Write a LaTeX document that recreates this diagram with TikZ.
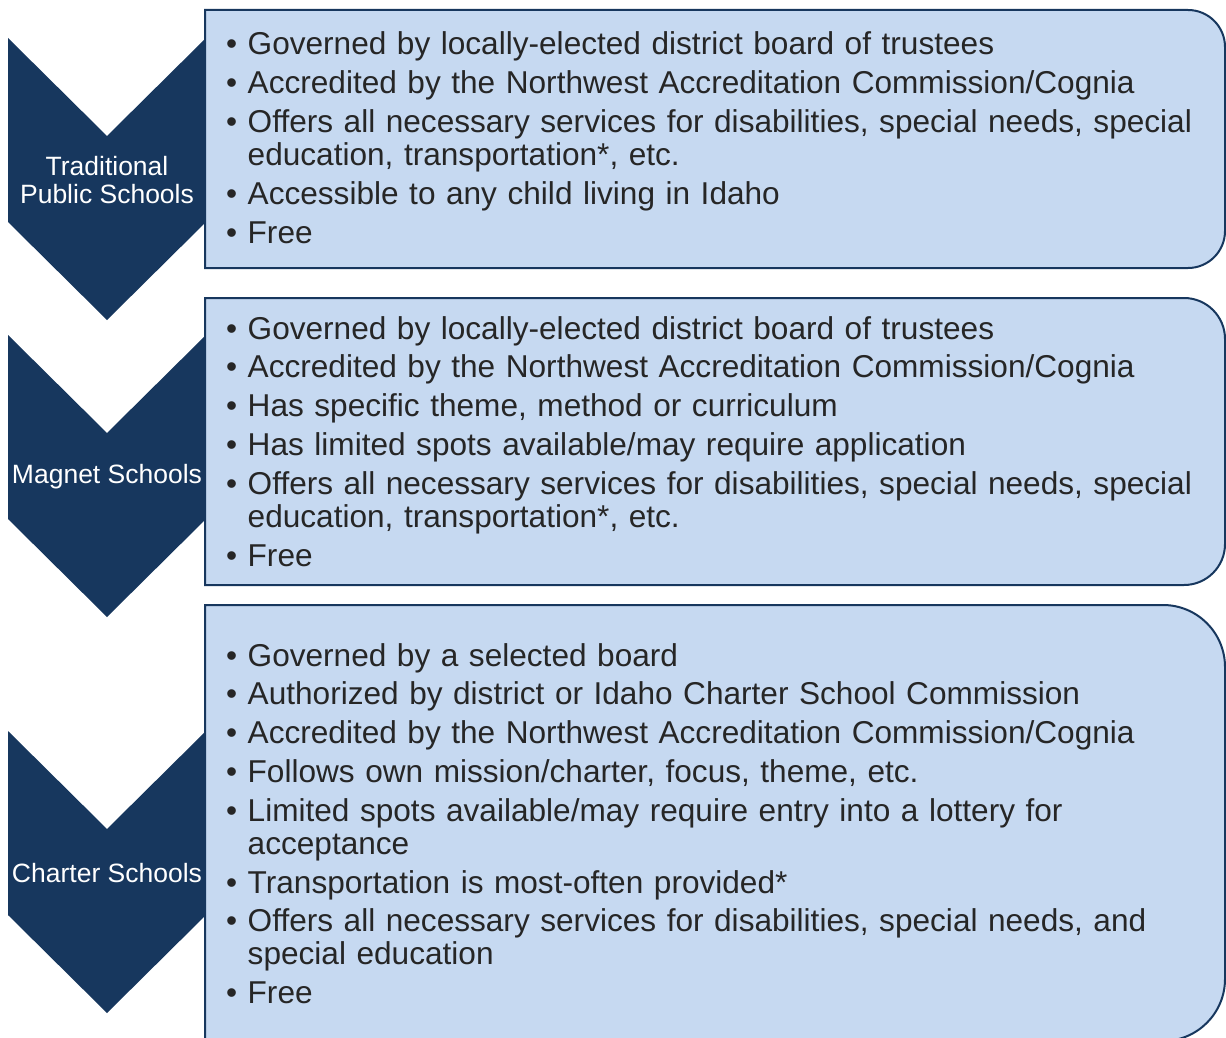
\documentclass[tikz,border=0pt]{standalone}
\usepackage{fontspec}
\setmainfont{Liberation Sans}
\usepackage{tikz}
\usetikzlibrary{calc}
\usetikzlibrary{positioning}
\definecolor{navy}{HTML}{17375E}
\definecolor{paleblue}{HTML}{C6D9F1}
\definecolor{textgray}{HTML}{262626}
\newcommand{\bul}[1]{\parskip=5.8pt\relax\hangindent=21.5pt\hangafter=1\noindent\makebox[21.5pt][l]{\textbullet}#1\par}

\begin{document}
\begin{tikzpicture}[x=1pt,y=-1pt]
  \tikzstyle{chevron}=[fill=navy]
  \tikzstyle{info box}=[fill=paleblue,draw=navy,line width=2pt]
  \tikzset{
chevron label/.style={text=white,align=center,inner sep=0,font=\fontsize{26.5}{27.5}\selectfont},
item list/.style={text=textgray,anchor=base west,inner sep=0,text width=1000pt,font=\fontsize{31.6}{33}\selectfont}
}
  \useasboundingbox (0,0) rectangle (1226,1038);
  % chevrons
  \foreach \t/\n/\l in {38/tps/{Traditional\\Public Schools},335/mag/{Magnet Schools},731/cha/{Charter Schools}}{
    \fill[chevron] (8,\t) -- (107,\t+98) -- (206,\t) -- (206,\t+184) -- (107,\t+282) -- (8,\t+184) -- cycle;
    \node[chevron label] (\n) at (107,\t+142) {\l};
  }
  % boxes
  \draw[info box] (205,268) -- (205,10) [rounded corners=37pt] -- (1225,10) -- (1225,268) [sharp corners] -- cycle;
  \draw[info box] (205,585) -- (205,298) [rounded corners=41pt] -- (1225,298) -- (1225,585) [sharp corners] -- cycle;
  \draw[info box] (205,1041) -- (205,605) [rounded corners=62pt] -- (1225,605) -- (1225,1041) [sharp corners] -- cycle;
  \node[item list] (tps list) at (226,55) {%
    \bul{Governed by locally-elected district board of trustees}%
    \bul{Accredited by the Northwest Accreditation Commission/Cognia}%
    \bul{Offers all necessary services for disabilities, special needs, special\newline education, transportation*, etc.}%
    \bul{Accessible to any child living in Idaho}%
    \bul{Free}};
  \node[item list] (mag list) at (226,339) {%
    \bul{Governed by locally-elected district board of trustees}%
    \bul{Accredited by the Northwest Accreditation Commission/Cognia}%
    \bul{Has specific theme, method or curriculum}%
    \bul{Has limited spots available/may require application}%
    \bul{Offers all necessary services for disabilities, special needs, special\newline education, transportation*, etc.}%
    \bul{Free}};
  \node[item list] (cha list) at (226,666) {%
    \bul{Governed by a selected board}%
    \bul{Authorized by district or Idaho Charter School Commission}%
    \bul{Accredited by the Northwest Accreditation Commission/Cognia}%
    \bul{Follows own mission/charter, focus, theme, etc.}%
    \bul{Limited spots available/may require entry into a lottery for\newline acceptance}%
    \bul{Transportation is most-often provided*}%
    \bul{Offers all necessary services for disabilities, special needs, and\newline special education}%
    \bul{Free}};
\end{tikzpicture}
\end{document}
